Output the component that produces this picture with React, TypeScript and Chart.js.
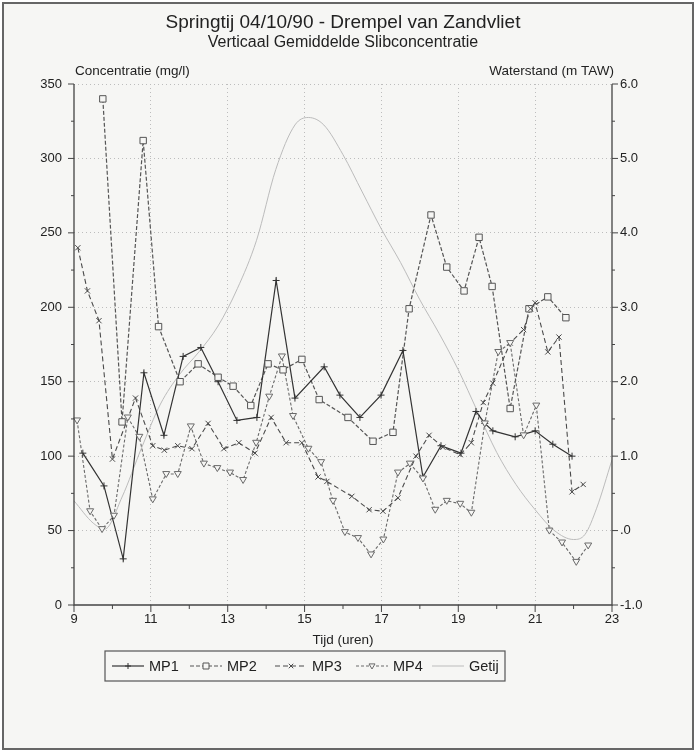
import React, { useEffect, useRef } from 'react';
import { Chart, registerables } from 'chart.js';

Chart.register(...registerables);

// ---------- data ----------
const mp1Time = [9.23, 9.78, 10.28, 10.82, 11.34, 11.84, 12.3, 12.75, 13.24, 13.76, 14.26, 14.75, 15.51, 15.92, 16.44, 16.99, 17.56, 18.08, 18.55, 19.07, 19.46, 19.69, 19.9, 20.48, 21.0, 21.46, 21.96];
const mp1Conc = [102, 80, 31, 156, 114, 167, 173, 150, 124, 126, 218, 139, 160, 141, 126, 141, 171, 86, 107, 102, 130, 122, 117, 113, 117, 108, 100];

const mp2Time = [9.75, 10.25, 10.8, 11.2, 11.76, 12.23, 12.75, 13.14, 13.6, 14.05, 14.44, 14.93, 15.38, 16.13, 16.78, 17.3, 17.72, 18.29, 18.7, 19.15, 19.54, 19.88, 20.35, 20.84, 21.33, 21.8];
const mp2Conc = [340, 123, 312, 187, 150, 162, 153, 147, 134, 162, 158, 165, 138, 126, 110, 116, 199, 262, 227, 211, 247, 214, 132, 199, 207, 193];

const mp3Time = [9.1, 9.35, 9.65, 10.0, 10.6, 11.05, 11.35, 11.7, 12.07, 12.49, 12.9, 13.29, 13.71, 14.13, 14.52, 14.93, 15.35, 15.58, 16.23, 16.68, 17.04, 17.43, 17.9, 18.24, 18.6, 19.05, 19.34, 19.65, 19.9, 20.35, 20.7, 20.88, 21.0, 21.33, 21.62, 21.96, 22.25];
const mp3Conc = [240, 211, 191, 98, 139, 107, 104, 107, 105, 122, 105, 109, 102, 126, 109, 109, 86, 83, 73, 64, 63, 72, 100, 114, 106, 101, 109, 136, 149, 176, 185, 199, 203, 170, 180, 76, 81];

const mp4Time = [9.08, 9.42, 9.73, 10.04, 10.4, 10.7, 11.05, 11.4, 11.7, 12.04, 12.38, 12.73, 13.06, 13.4, 13.74, 14.08, 14.41, 14.7, 15.1, 15.43, 15.74, 16.05, 16.39, 16.73, 17.05, 17.43, 17.74, 18.08, 18.4, 18.7, 19.05, 19.34, 19.69, 20.04, 20.35, 20.7, 21.03, 21.37, 21.7, 22.07, 22.38];
const mp4Conc = [124, 63, 51, 60, 126, 113, 71, 88, 88, 120, 95, 92, 89, 84, 109, 140, 167, 127, 105, 96, 70, 49, 45, 34, 44, 89, 95, 85, 64, 70, 68, 62, 122, 170, 176, 114, 134, 50, 42, 29, 40];

const getijTime = [9.0, 9.5, 9.8, 10.25, 10.75, 11.25, 11.75, 12.25, 12.75, 13.25, 13.75, 14.25, 14.75, 15.1, 15.5, 16.0, 16.5, 17.0, 17.5, 18.0, 18.5, 19.0, 19.5, 20.0, 20.5, 21.0, 21.5, 22.0, 22.3, 22.6, 23.0];
const getijLevel = [0.4, 0.1, 0.02, 0.45, 1.1, 1.7, 2.1, 2.4, 2.75, 3.25, 3.9, 4.85, 5.45, 5.55, 5.45, 5.05, 4.55, 4.05, 3.6, 3.1, 2.65, 2.16, 1.6, 1.05, 0.62, 0.28, 0.0, -0.12, -0.05, 0.3, 0.95];

const xTickValues = [9, 11, 13, 15, 17, 19, 21, 23];
const seriesNames = ['MP1', 'MP2', 'MP3', 'MP4', 'Getij'];

const titleText = 'Springtij 04/10/90 - Drempel van Zandvliet';
const subtitleText = 'Verticaal Gemiddelde Slibconcentratie';
const leftAxisTitle = 'Concentratie (mg/l)';
const rightAxisTitle = 'Waterstand (m TAW)';
const xAxisTitle = 'Tijd (uren)';

const FONT = "'Liberation Sans', Arial, Helvetica, sans-serif";
const TXT = '#222';

const pairs = (t: number[], v: number[]) => t.map((x, i) => ({ x, y: v[i] }));

function drawMarker(ctx: CanvasRenderingContext2D, kind: string, x: number, y: number, r: number, color: string) {
  ctx.save();
  ctx.setLineDash([]);
  ctx.strokeStyle = color;
  ctx.lineWidth = 1;
  ctx.beginPath();
  if (kind === 'cross') {
    ctx.moveTo(x - r, y); ctx.lineTo(x + r, y);
    ctx.moveTo(x, y - r); ctx.lineTo(x, y + r);
    ctx.stroke();
  } else if (kind === 'crossRot') {
    ctx.moveTo(x - r * 0.75, y - r * 0.75); ctx.lineTo(x + r * 0.75, y + r * 0.75);
    ctx.moveTo(x - r * 0.75, y + r * 0.75); ctx.lineTo(x + r * 0.75, y - r * 0.75);
    ctx.stroke();
  } else if (kind === 'rect') {
    ctx.fillStyle = '#f6f6f4';
    ctx.rect(x - r, y - r, 2 * r, 2 * r);
    ctx.fill(); ctx.stroke();
  } else if (kind === 'triangle') {
    ctx.fillStyle = '#f6f6f4';
    ctx.moveTo(x - r, y - r * 0.7); ctx.lineTo(x + r, y - r * 0.7); ctx.lineTo(x, y + r);
    ctx.closePath(); ctx.fill(); ctx.stroke();
  }
  ctx.restore();
}

const decorPlugin = {
  id: 'decor',
  beforeDraw(chart: any) {
    const ctx = chart.ctx as CanvasRenderingContext2D;
    ctx.save();
    ctx.fillStyle = '#ffffff';
    ctx.fillRect(0, 0, chart.width, chart.height);
    ctx.fillStyle = '#f6f6f4';
    ctx.fillRect(3, 3, chart.width - 6, chart.height - 6);
    ctx.restore();
  },
  afterDraw(chart: any) {
    const ctx = chart.ctx as CanvasRenderingContext2D;
    const { x, y, y1 } = chart.scales;
    const area = chart.chartArea;
    ctx.save();
    // frame
    ctx.strokeStyle = '#666';
    ctx.lineWidth = 2;
    ctx.strokeRect(3, 3, chart.width - 6, chart.height - 6);

    // axis lines
    ctx.strokeStyle = '#444';
    ctx.lineWidth = 1.3;
    ctx.beginPath();
    ctx.moveTo(area.left, area.top); ctx.lineTo(area.left, area.bottom); ctx.lineTo(area.right, area.bottom); ctx.lineTo(area.right, area.top);
    ctx.stroke();

    // tick marks
    ctx.lineWidth = 1;
    ctx.beginPath();
    for (let v = 0; v <= 350; v += 25) {
      const py = y.getPixelForValue(v);
      const len = v % 50 === 0 ? 6 : 3;
      ctx.moveTo(area.left - len, py); ctx.lineTo(area.left, py);
    }
    for (let v = -1; v <= 6.001; v += 0.5) {
      const py = y1.getPixelForValue(v);
      const len = Math.abs(v - Math.round(v)) < 0.01 ? 6 : 3;
      ctx.moveTo(area.right, py); ctx.lineTo(area.right + len, py);
    }
    for (let v = 9; v <= 23; v += 1) {
      const px = x.getPixelForValue(v);
      const len = v % 2 === 1 ? 7 : 4;
      ctx.moveTo(px, area.bottom); ctx.lineTo(px, area.bottom + len);
    }
    ctx.stroke();

    // titles
    ctx.fillStyle = TXT;
    ctx.textBaseline = 'middle';
    ctx.textAlign = 'center';
    const cx = (area.left + area.right) / 2;
    ctx.font = `19px ${FONT}`;
    ctx.fillText(titleText, cx, 23);
    ctx.font = `16px ${FONT}`;
    ctx.fillText(subtitleText, cx, 43);
    ctx.font = `13.5px ${FONT}`;
    ctx.textAlign = 'left';
    ctx.fillText(leftAxisTitle, area.left + 1, 71);
    ctx.textAlign = 'right';
    ctx.fillText(rightAxisTitle, area.right + 2, 71);
    ctx.textAlign = 'center';
    ctx.font = `13.5px ${FONT}`;
    ctx.fillText(xAxisTitle, cx, 640);

    // legend
    const lx0 = 105, lx1 = 505, ly0 = 651, ly1 = 681;
    ctx.strokeStyle = '#555';
    ctx.lineWidth = 1.2;
    ctx.strokeRect(lx0, ly0, lx1 - lx0, ly1 - ly0);
    const ly = (ly0 + ly1) / 2;
    const starts = [112, 190, 275, 356, 432];
    ctx.font = `14.5px ${FONT}`;
    ctx.textAlign = 'left';
    chart.data.datasets.forEach((ds: any, i: number) => {
      const sx = starts[i];
      const w = 32;
      ctx.save();
      ctx.strokeStyle = ds.borderColor;
      ctx.lineWidth = ds.borderWidth;
      ctx.setLineDash(ds.borderDash || []);
      ctx.beginPath();
      ctx.moveTo(sx, ly); ctx.lineTo(sx + w, ly);
      ctx.stroke();
      ctx.restore();
      if (ds.markerKind) drawMarker(ctx, ds.markerKind, sx + w / 2, ly, 3, ds.borderColor);
      ctx.fillStyle = TXT;
      ctx.fillText(ds.label, sx + w + 5, ly + 1);
    });
    ctx.restore();
  },
  afterDatasetsDraw(chart: any) {
    const ctx = chart.ctx as CanvasRenderingContext2D;
    chart.data.datasets.forEach((ds: any, i: number) => {
      if (!ds.markerKind) return;
      const meta = chart.getDatasetMeta(i);
      meta.data.forEach((pt: any) => drawMarker(ctx, ds.markerKind, pt.x, pt.y, ds.markerSize, ds.borderColor));
    });
  },
};

export default function App() {
  const ref = useRef<HTMLCanvasElement>(null);
  useEffect(() => {
    if (!ref.current) return;
    const tickFont = { family: FONT, size: 13 };
    const gridColor = '#bdbdbd';
    const chart = new Chart(ref.current, {
      type: 'line',
      data: {
        datasets: [
          { label: seriesNames[0], data: pairs(mp1Time, mp1Conc), yAxisID: 'y', borderColor: '#333', borderWidth: 1.2, borderDash: [], pointRadius: 0, markerKind: 'cross', markerSize: 3.5 } as any,
          { label: seriesNames[1], data: pairs(mp2Time, mp2Conc), yAxisID: 'y', borderColor: '#555', borderWidth: 1.2, borderDash: [4, 2], pointRadius: 0, markerKind: 'rect', markerSize: 3.2 } as any,
          { label: seriesNames[2], data: pairs(mp3Time, mp3Conc), yAxisID: 'y', borderColor: '#4a4a4a', borderWidth: 1.1, borderDash: [5, 3], pointRadius: 0, markerKind: 'crossRot', markerSize: 3.5 } as any,
          { label: seriesNames[3], data: pairs(mp4Time, mp4Conc), yAxisID: 'y', borderColor: '#6a6a6a', borderWidth: 1.1, borderDash: [3, 2], pointRadius: 0, markerKind: 'triangle', markerSize: 3.5 } as any,
          { label: seriesNames[4], data: pairs(getijTime, getijLevel), yAxisID: 'y1', borderColor: '#bcbcbc', borderWidth: 1, borderDash: [], pointRadius: 0, cubicInterpolationMode: 'monotone' } as any,
        ],
      },
      options: {
        animation: false,
        responsive: false,
        maintainAspectRatio: false,
        layout: { padding: { top: 84, left: 0, right: 0, bottom: 0 } },
        plugins: { legend: { display: false }, title: { display: false }, tooltip: { enabled: false } },
        elements: { line: { tension: 0 } },
        scales: {
          x: {
            type: 'linear',
            min: 9,
            max: 23,
            afterFit: (s: any) => { s.height = 147; },
            afterBuildTicks: (s: any) => { s.ticks = xTickValues.map((v) => ({ value: v })); },
            ticks: { font: tickFont, color: TXT, padding: 7, autoSkip: false, maxRotation: 0, callback: (v: any) => String(v) },
            grid: { drawTicks: false, color: (c: any) => (c.tick && (c.tick.value === 9 || c.tick.value === 23) ? 'rgba(0,0,0,0)' : gridColor) },
            border: { display: false, dash: [1, 3] },
          },
          y: {
            type: 'linear',
            position: 'left',
            min: 0,
            max: 350,
            afterFit: (s: any) => { s.width = 74; },
            ticks: { stepSize: 50, font: tickFont, color: TXT, padding: 12 },
            grid: { drawTicks: false, color: (c: any) => (c.tick && c.tick.value === 0 ? 'rgba(0,0,0,0)' : gridColor) },
            border: { display: false, dash: [1, 3] },
          },
          y1: {
            type: 'linear',
            position: 'right',
            min: -1,
            max: 6,
            afterFit: (s: any) => { s.width = 84; },
            ticks: {
              stepSize: 1,
              font: tickFont,
              color: TXT,
              padding: 8,
              callback: (v: any) => (Math.abs(v) < 1e-9 ? '.0' : Number(v).toFixed(1)),
            },
            grid: { display: false, drawTicks: false },
            border: { display: false },
          },
        },
      } as any,
      plugins: [decorPlugin],
    });
    return () => chart.destroy();
  }, []);

  return (
    <div style={{ position: 'fixed', left: 0, top: 0, width: 696, height: 752 }}>
      <canvas ref={ref} width={696} height={752} style={{ width: 696, height: 752, display: 'block' }} />
    </div>
  );
}
